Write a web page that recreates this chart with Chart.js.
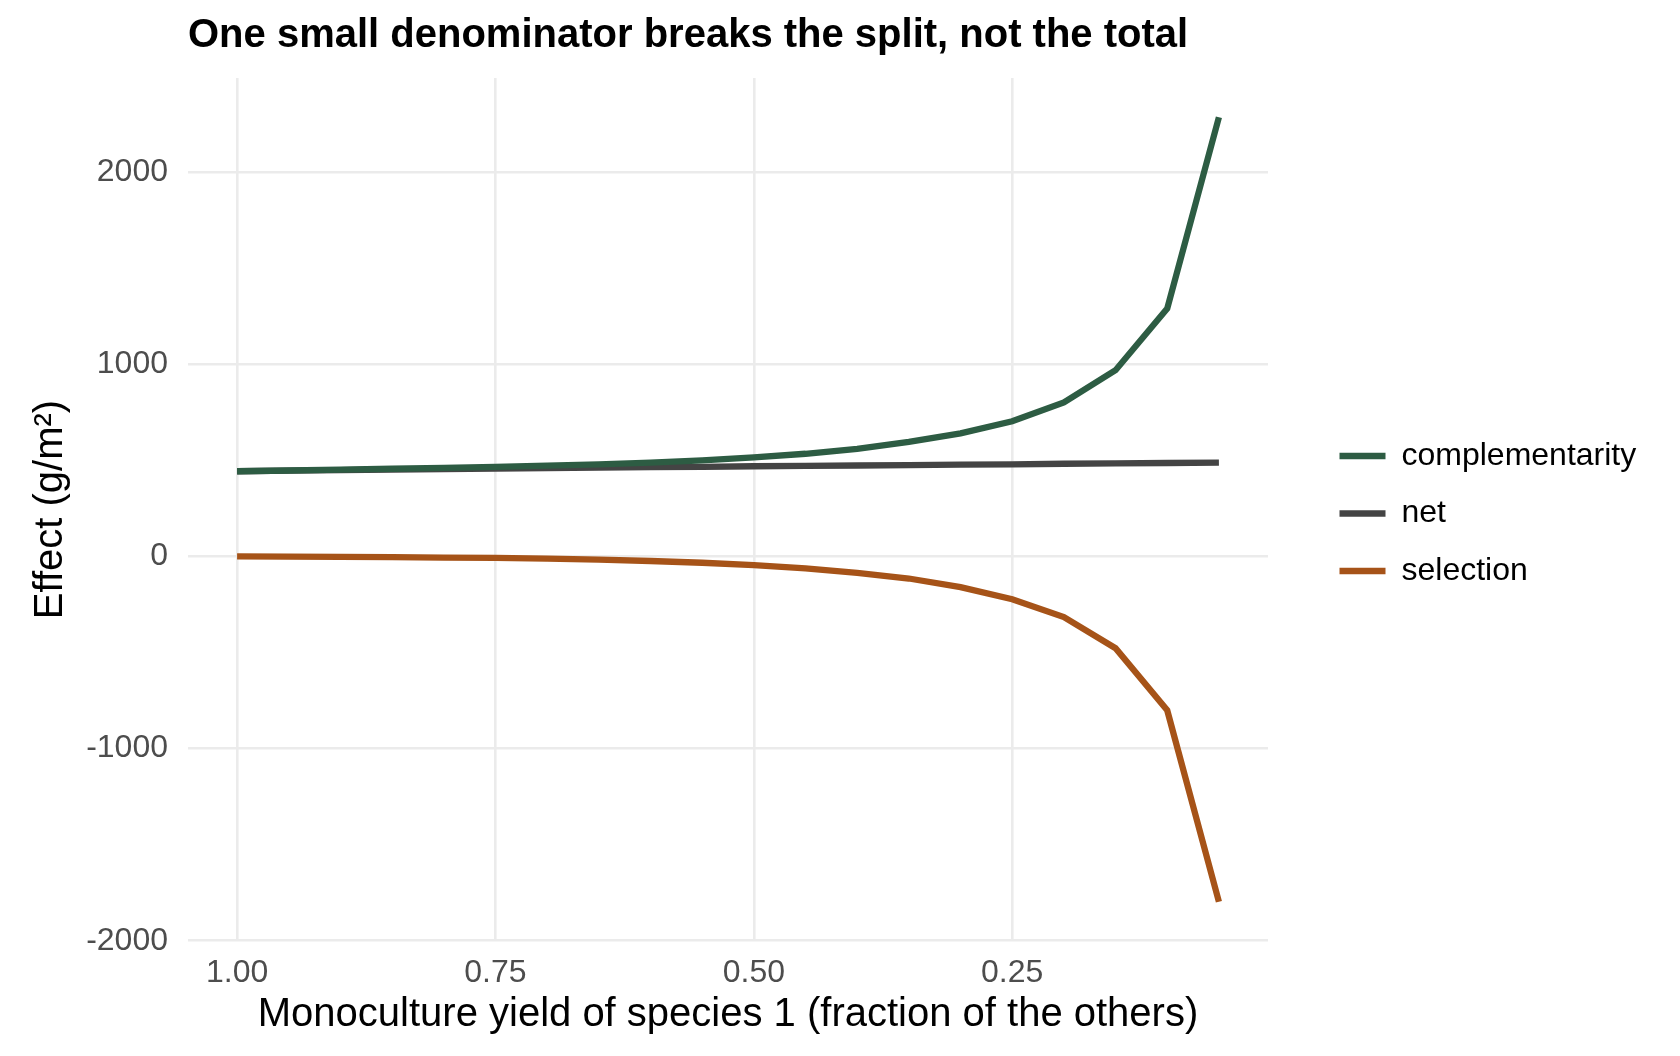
<!DOCTYPE html>
<html>
<head>
<meta charset="utf-8">
<script src="https://cdn.jsdelivr.net/npm/chart.js@4"></script>
<style>
  body { margin: 0; background: #ffffff; }
  #wrap { width: 1680px; height: 1056px; }
</style>
</head>
<body>
<div id="wrap"><canvas id="chart"></canvas></div>
<script>
const xValues = [1.00, 0.95, 0.90, 0.85, 0.80, 0.75, 0.70, 0.65, 0.60, 0.55,
                 0.50, 0.45, 0.40, 0.35, 0.30, 0.25, 0.20, 0.15, 0.10, 0.05];
const complementarity = [443, 447, 451, 456, 461, 466, 472, 479, 488, 500,
                         515, 534, 560, 596, 640, 703, 801, 969, 1290, 2285];
const net = [443, 446, 449, 452, 454, 457, 459, 462, 464, 466,
             469, 471, 473, 475, 477, 479, 482, 484, 486, 488];
const selection = [0, -1, -2, -4, -6, -8, -12, -17, -24, -33,
                   -45, -62, -86, -115, -160, -223, -316, -478, -801, -1797];
const xTicks = [1.00, 0.75, 0.50, 0.25];
const yTicks = [-2000, -1000, 0, 1000, 2000];

const FONT = "'Liberation Sans', Arial, Helvetica, sans-serif";

function toPoints(values) {
  return values.map((v, i) => ({ x: xValues[i], y: v }));
}

// ggplot-like 5% expansion of the data range
const allY = complementarity.concat(net, selection);
const yLo = Math.min(...allY), yHi = Math.max(...allY);
const yPad = (yHi - yLo) * 0.05;
const xLo = Math.min(...xValues), xHi = Math.max(...xValues);
const xPad = (xHi - xLo) * 0.05;

const series = [
  { label: "complementarity", values: complementarity, color: "#2D5C43" },
  { label: "net", values: net, color: "#444444" },
  { label: "selection", values: selection, color: "#A65318" },
];

// legend sits a bit to the right of the panel, as in ggplot
const legendTweak = {
  id: "legendTweak",
  beforeInit(chart) {
    const fit = chart.legend.fit;
    chart.legend.fit = function () {
      fit.call(this);
      this.width = 412;
    };
  },
  afterLayout(chart) {
    chart.legend.left += 46;
    chart.legend.top += 4;
    chart.legend.bottom += 4;
  },
};

new Chart(document.getElementById("chart"), {
  type: "line",
  data: {
    datasets: series.map((s) => ({
      label: s.label,
      data: toPoints(s.values),
      borderColor: s.color,
      backgroundColor: s.color,
      borderWidth: 6.3,
      pointRadius: 0,
      tension: 0,
      borderCapStyle: "butt",
    })),
  },
  options: {
    responsive: true,
    maintainAspectRatio: false,
    animation: false,
    layout: { padding: 0 },
    plugins: {
      title: {
        display: true,
        text: "One small denominator breaks the split, not the total",
        align: "start",
        fullSize: false,
        color: "#000000",
        font: { family: FONT, size: 40, weight: "bold" },
        padding: { top: 12, bottom: 18 },
      },
      legend: {
        position: "right",
        align: "center",
        fullSize: false,
        labels: {
          usePointStyle: true,
          pointStyle: "line",
          pointStyleWidth: 46,
          padding: 25.5,
          color: "#000000",
          font: { family: FONT, size: 32 },
        },
      },
      tooltip: { enabled: false },
    },
    scales: {
      x: {
        type: "linear",
        reverse: true,
        min: xLo - xPad,
        max: xHi + xPad,
        afterBuildTicks: (scale) => {
          scale.ticks = xTicks.map((v) => ({ value: v }));
        },
        afterFit: (scale) => {
          scale.height = 115;
        },
        ticks: {
          padding: 13,
          color: "#4D4D4D",
          font: { family: FONT, size: 32 },
          callback: (v) => Number(v).toFixed(2),
        },
        grid: { color: "#EBEBEB", lineWidth: 2.6, drawTicks: false },
        border: { display: false },
        title: {
          display: true,
          text: "Monoculture yield of species 1 (fraction of the others)",
          color: "#000000",
          font: { family: FONT, size: 40 },
          padding: { top: 0, bottom: 17 },
        },
      },
      y: {
        type: "linear",
        min: yLo - yPad,
        max: yHi + yPad,
        afterBuildTicks: (scale) => {
          scale.ticks = yTicks.map((v) => ({ value: v }));
        },
        afterFit: (scale) => {
          scale.width = 188;
        },
        ticks: {
          padding: 20,
          color: "#4D4D4D",
          font: { family: FONT, size: 32 },
          callback: (v) => String(v),
        },
        grid: { color: "#EBEBEB", lineWidth: 2.6, drawTicks: false },
        border: { display: false },
        title: {
          display: true,
          text: "Effect (g/m²)",
          color: "#000000",
          font: { family: FONT, size: 40 },
          padding: { top: 27, bottom: 0 },
        },
      },
    },
  },
  plugins: [legendTweak],
});
</script>
</body>
</html>
